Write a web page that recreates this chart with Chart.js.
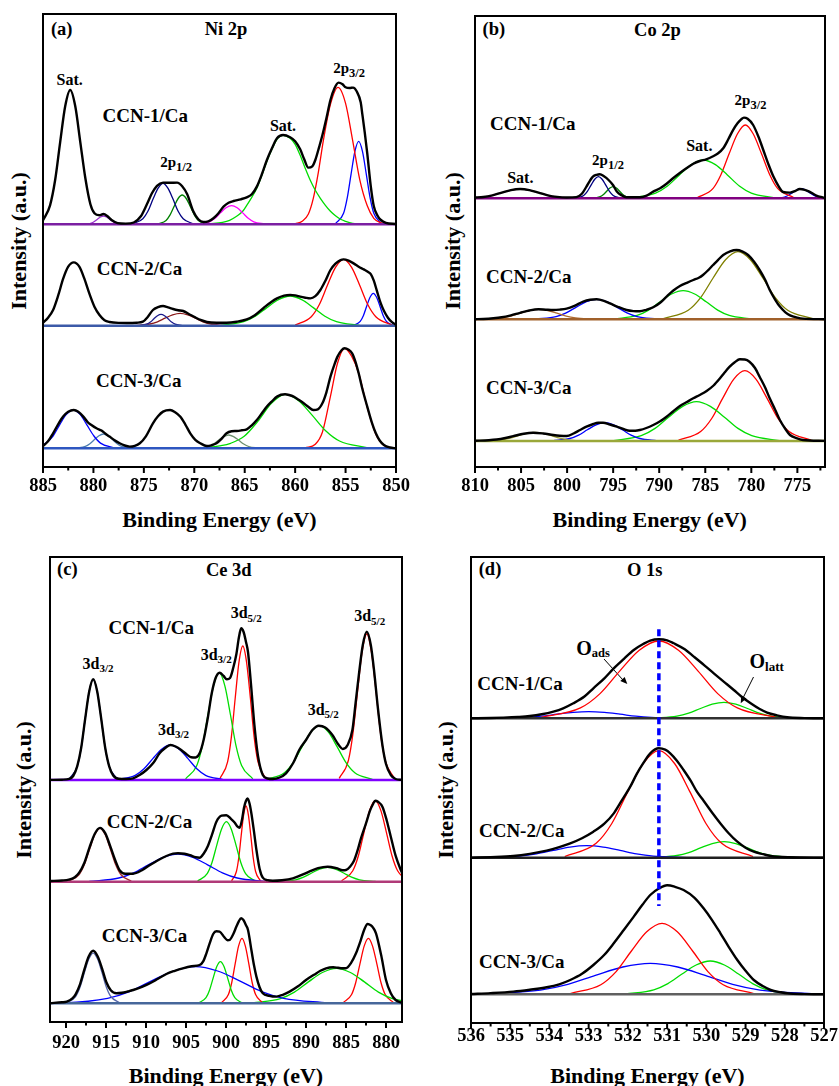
<!DOCTYPE html>
<html>
<head>
<meta charset="utf-8">
<title>XPS spectra</title>
<script src="https://cdn.jsdelivr.net/npm/chart.js@4.4.1/dist/chart.umd.min.js"></script>
<style>
  html, body { margin: 0; padding: 0; background: #fff; }
  body { width: 839px; height: 1086px; position: relative; overflow: hidden;
         font-family: "Liberation Serif", "Times New Roman", serif; font-weight: bold; color: #000; }
  canvas { position: absolute; }
  .t { position: absolute; transform: translate(-50%, -50%); white-space: nowrap; line-height: 1; }
  .yt { transform: translate(-50%, -50%) rotate(-90deg); }
  .sb { position: relative; }
  svg { position: absolute; left: 0; top: 0; }
</style>
</head>
<body>

<!-- (a) Ni 2p -->
<div class="t" style="left:61.7px;top:28.5px;font-size:18.5px">(a)</div>
<div class="t" style="left:226px;top:29.3px;font-size:18.5px">Ni 2p</div>
<div class="t" style="left:69.7px;top:80px;font-size:16px">Sat.</div>
<div class="t" style="left:145.3px;top:114.5px;font-size:19px">CCN-1/Ca</div>
<div class="t" style="left:176.2px;top:161.7px;font-size:15px">2p<span class="sb" style="font-size:12.5px;top:4px">1/2</span></div>
<div class="t" style="left:283px;top:125.7px;font-size:16px">Sat.</div>
<div class="t" style="left:349.2px;top:68.3px;font-size:15px">2p<span class="sb" style="font-size:12.5px;top:4px">3/2</span></div>
<div class="t" style="left:139.5px;top:268.3px;font-size:19px">CCN-2/Ca</div>
<div class="t" style="left:138.7px;top:380.3px;font-size:19px">CCN-3/Ca</div>
<div class="t" style="left:219.5px;top:520px;font-size:22px">Binding Energy (eV)</div>
<div class="t yt" style="left:19.3px;top:240.5px;font-size:22px">Intensity (a.u.)</div>

<!-- (b) Co 2p -->
<div class="t" style="left:493.8px;top:28.5px;font-size:18.5px">(b)</div>
<div class="t" style="left:657.5px;top:29.5px;font-size:18.5px">Co 2p</div>
<div class="t" style="left:532.8px;top:122.5px;font-size:19px">CCN-1/Ca</div>
<div class="t" style="left:520.3px;top:178.3px;font-size:16px">Sat.</div>
<div class="t" style="left:608px;top:159.7px;font-size:15px">2p<span class="sb" style="font-size:12.5px;top:4px">1/2</span></div>
<div class="t" style="left:699.3px;top:145.8px;font-size:16px">Sat.</div>
<div class="t" style="left:750.5px;top:99.7px;font-size:15px">2p<span class="sb" style="font-size:12.5px;top:4px">3/2</span></div>
<div class="t" style="left:528.7px;top:276px;font-size:19px">CCN-2/Ca</div>
<div class="t" style="left:528.7px;top:387.3px;font-size:19px">CCN-3/Ca</div>
<div class="t" style="left:649.7px;top:520px;font-size:22px">Binding Energy (eV)</div>
<div class="t yt" style="left:453.3px;top:241px;font-size:22px">Intensity (a.u.)</div>

<!-- (c) Ce 3d -->
<div class="t" style="left:67.3px;top:569px;font-size:18.5px">(c)</div>
<div class="t" style="left:228.8px;top:570px;font-size:18.5px">Ce 3d</div>
<div class="t" style="left:151.2px;top:626.7px;font-size:19px">CCN-1/Ca</div>
<div class="t" style="left:98px;top:663.8px;font-size:16px">3d<span class="sb" style="font-size:11px;top:3.5px">3/2</span></div>
<div class="t" style="left:173.5px;top:729.5px;font-size:16px">3d<span class="sb" style="font-size:11px;top:3.5px">3/2</span></div>
<div class="t" style="left:216.2px;top:654.5px;font-size:16px">3d<span class="sb" style="font-size:11px;top:3.5px">3/2</span></div>
<div class="t" style="left:246.2px;top:613px;font-size:16px">3d<span class="sb" style="font-size:11px;top:3.5px">5/2</span></div>
<div class="t" style="left:323.2px;top:709.7px;font-size:16px">3d<span class="sb" style="font-size:11px;top:3.5px">5/2</span></div>
<div class="t" style="left:369.7px;top:616.3px;font-size:16px">3d<span class="sb" style="font-size:11px;top:3.5px">5/2</span></div>
<div class="t" style="left:149.5px;top:820.8px;font-size:19px">CCN-2/Ca</div>
<div class="t" style="left:144.5px;top:935px;font-size:19px">CCN-3/Ca</div>
<div class="t" style="left:226px;top:1075.5px;font-size:22px">Binding Energy (eV)</div>
<div class="t yt" style="left:24.3px;top:789.5px;font-size:22px">Intensity (a.u.)</div>

<!-- (d) O 1s -->
<div class="t" style="left:490px;top:569px;font-size:18.5px">(d)</div>
<div class="t" style="left:644.7px;top:570px;font-size:18.5px">O 1s</div>
<div class="t" style="left:520px;top:682.8px;font-size:19px">CCN-1/Ca</div>
<div class="t" style="left:593px;top:647.8px;font-size:20px">O<span class="sb" style="font-size:12.5px;top:2px">ads</span></div>
<div class="t" style="left:766.7px;top:660.5px;font-size:20px">O<span class="sb" style="font-size:13px;top:3px">latt</span></div>
<div class="t" style="left:521.7px;top:830.3px;font-size:19px">CCN-2/Ca</div>
<div class="t" style="left:521.7px;top:961px;font-size:19px">CCN-3/Ca</div>
<div class="t" style="left:647.5px;top:1076px;font-size:22px">Binding Energy (eV)</div>
<div class="t yt" style="left:445.9px;top:790px;font-size:22px">Intensity (a.u.)</div>

<svg width="839" height="1086">
  <line x1="604" y1="659" x2="623" y2="680" stroke="#000" stroke-width="1"/>
  <polygon points="627.3,684 620.3,681 624.7,676.9" fill="#000"/>
  <line x1="753.5" y1="677" x2="743" y2="698" stroke="#000" stroke-width="1"/>
  <polygon points="740.7,703.3 741.2,695.7 746.5,698.4" fill="#000"/>
</svg>

<script>
// ---------------- (a) Ni 2p ----------------
const niTicks = [885, 880, 875, 870, 865, 860, 855, 850];
const niOffsets = [242.7, 141.3, 18.7];

const ni1Env = [[885,4],[884.3,19],[883.8,44],[883.3,82],[882.8,118],[882.3,134.3],[881.8,118],[881.3,82],[880.8,46],[880.3,20],[879.9,11],[879.4,9],[879.0,10.3],[878.6,8],[878.2,4.3],[877.6,1.2],[876.8,0.7],[876.0,1.8],[875.3,8],[874.7,20],[874.2,31],[873.7,38.5],[873.1,41.7],[872.4,41.5],[871.7,41.7],[871.2,38],[870.7,30],[870.1,13],[869.6,5],[869.1,2.3],[868.6,3],[868.1,6],[867.6,11],[867.1,17.7],[866.6,21.5],[866.1,23.3],[865.4,25],[864.8,27],[864.3,30],[863.8,37.7],[863.3,50],[862.8,64.3],[862.3,76],[861.8,86],[861.2,89.3],[860.5,87],[860.0,83],[859.5,75],[859.1,65],[858.7,56.7],[858.3,58],[858.0,64.3],[857.6,78],[857.3,89],[856.9,106],[856.5,124.3],[856.1,136],[855.7,141.7],[855.3,140],[855.0,137],[854.6,136.3],[854.25,136.7],[853.9,133],[853.5,122],[853.35,111],[853.1,92],[852.85,71],[852.5,38],[852.2,18],[851.8,8],[851.5,4.3],[851.0,1.5],[850,0.3]];
const ni1Purple = [[880.8,0],[880.2,1.1],[879.6,5.1],[879.3,7.3],[879.0,8.3],[878.7,7.3],[878.4,5.1],[877.8,1.1],[877.2,0]];
const ni1Navy = [[876.1,0.5],[875.1,5.5],[874.6,13],[874.1,25],[873.6,36],[873.1,41],[872.6,36],[872.1,25],[871.6,13],[871.1,5.5],[870.1,0.5]];
const ni1DkGreen = [[873.6,0.3],[872.8,3.9],[872.4,9.4],[872.0,17.9],[871.6,25.8],[871.2,29.3],[870.8,25.8],[870.4,17.9],[870.0,9.4],[869.6,3.9],[868.8,0.3]];
const ni1Magenta = [[869.6,0.2],[868.5,2.5],[867.95,6],[867.4,11.4],[866.85,16.5],[866.3,18.7],[865.75,16.5],[865.2,11.4],[864.65,6],[864.1,2.5],[863.0,0.2]];
const ni1Green = [[868.5,0.3],[867.2,2],[866.5,4],[865.8,8],[865.2,13],[864.8,19],[864.3,27],[863.8,36],[863.3,49],[862.8,63],[862.3,75],[861.8,85],[861.2,89],[860.5,86],[860.0,80],[859.5,69],[859.0,56],[858.5,44],[858.0,34],[857.5,26],[857.0,19],[856.5,13],[856.0,8.5],[855.5,5],[855.0,3],[854.3,1],[853.5,0.3]];
const ni1Red = [[860.0,0.5],[859.3,3],[858.7,10],[858.2,26],[857.7,52],[857.2,84],[856.5,120],[855.75,137],[855.0,121],[854.3,84],[853.6,45],[852.85,18.5],[852.2,6],[851.5,1.5],[850.8,0.2]];
const ni1Blue = [[856.0,0.7],[855.2,11],[854.825,27],[854.45,50.5],[854.075,73],[853.7,83],[853.325,73],[852.95,50.5],[852.575,27],[852.2,11],[851.45,0.9]];

const ni2Env = [[885,3],[884.5,8],[884.0,15.7],[883.5,30],[883.0,47],[882.5,59],[881.95,63.3],[881.4,59],[880.9,47],[880.4,32],[879.9,19],[879.4,10.7],[878.9,5.5],[878.4,3.7],[877.5,2.8],[876.7,2.7],[875.7,3],[875.1,4],[874.6,9],[874.1,15.7],[873.6,18.5],[873.1,19.7],[872.6,18.3],[872.1,16.7],[871.6,15.5],[871.1,14.7],[870.5,11.5],[869.9,8.3],[869.3,5.5],[868.75,3.7],[867.8,3],[866.8,3],[865.8,4],[864.8,6.3],[864.0,10.5],[863.1,18],[862.4,23.5],[861.8,27.3],[861.1,30],[860.5,30.7],[860.0,30.3],[859.5,29],[859.0,28],[858.5,27.3],[858.0,29.5],[857.5,35.7],[857.0,45],[856.5,55.7],[856.0,62],[855.5,65.5],[855.2,66.3],[854.7,65],[854.2,62.3],[853.7,59],[853.2,56.3],[852.8,54],[852.5,51.5],[852.2,45],[851.9,35],[851.5,22],[851.2,15],[850.8,8],[850.4,3.5],[850,1]];
const ni2Navy = [[875.4,0.1],[874.7,1.5],[874.35,3.6],[874.0,6.9],[873.65,10],[873.3,11.3],[872.95,10],[872.6,6.9],[872.25,3.6],[871.9,1.5],[871.2,0.1]];
const ni2DkRed = [[875.9,0.1],[874.4,1.7],[873.65,3.9],[872.9,7.5],[872.15,10.8],[871.4,12.3],[870.65,10.8],[869.9,7.5],[869.15,3.9],[868.4,1.7],[866.9,0.1]];
const ni2Green = [[867.4,0.3],[865.1,4],[863.95,9.5],[862.8,18.1],[861.65,26.1],[860.5,29.7],[859.35,26.1],[858.2,18.1],[857.05,9.5],[855.9,4],[853.6,0.3]];
const ni2Red = [[860.0,0.7],[858.4,9],[857.6,21.2],[856.8,40.4],[856.0,58.3],[855.2,66.3],[854.4,58.3],[853.6,40.4],[852.8,21.2],[852.0,9],[850.4,0.7]];
const ni2Blue = [[854.2,0.4],[853.55,4.4],[853.225,10.3],[852.9,19.7],[852.575,28.4],[852.25,32.3],[851.925,28.4],[851.6,19.7],[851.275,10.3],[850.95,4.4],[850.3,0.4]];

const ni3Env = [[885,2.3],[884.5,7],[884.0,15],[883.5,24],[883.0,31.7],[882.5,36.5],[881.95,38.3],[881.5,36.5],[881.0,31.7],[880.6,26.5],[880.2,23.3],[879.7,20],[879.2,17.7],[878.8,14.5],[878.4,11.7],[877.9,8],[877.4,5],[876.9,2.8],[876.4,1.7],[875.9,2.5],[875.4,5],[874.8,12],[874.1,25],[873.6,32],[873.1,36.7],[872.4,38.3],[871.9,36],[871.4,31.7],[870.9,24],[870.4,15],[869.9,8.5],[869.4,5],[868.75,2.3],[868.3,3],[867.8,5],[867.3,9.5],[866.8,15],[866.3,17],[865.8,17.3],[865.3,18],[864.8,19],[864.3,23],[863.8,28.3],[863.3,35],[862.8,41.7],[862.3,47],[861.8,51.7],[861.0,54],[860.6,53.3],[860.15,51.7],[859.65,48.5],[859.15,45],[858.7,41.5],[858.2,38.3],[857.75,39],[857.3,45],[856.9,56],[856.5,71.7],[856.1,84],[855.8,91.7],[855.4,98],[855.1,100],[854.7,98.5],[854.35,95],[854.0,86],[853.7,75],[853.3,58],[852.85,41.7],[852.4,26],[852.0,15],[851.6,7.5],[851.2,3.3],[850.6,0.8],[850,0]];
const ni3Blue = [[885,3.3],[884.7,5.2],[884.0,12.3],[883.35,23.4],[882.7,33.7],[882.0,38.3],[881.3,33.7],[880.65,23.4],[879.95,12.3],[879.3,5.2],[877.95,0.4]];
const ni3Steel = [[881.7,0.2],[880.8,1.9],[880.35,4.6],[879.9,8.7],[879.45,12.6],[879.0,14.3],[878.55,12.6],[878.1,8.7],[877.65,4.6],[877.2,1.9],[876.3,0.2]];
const ni3GrayGreen = [[869.6,0.1],[868.6,1.8],[868.1,4.3],[867.6,8.1],[867.1,11.7],[866.6,13.3],[866.1,11.7],[865.6,8.1],[865.1,4.3],[864.6,1.8],[863.6,0.1]];
const ni3Green = [[869.1,0.6],[867.5,2.5],[866.4,5],[865.05,12],[863.7,27],[862.35,45],[861.0,54],[859.65,47.5],[858.3,32.9],[856.95,17.3],[855.6,7.3],[852.9,0.6]];
const ni3Red = [[859.0,0.5],[858.0,4],[857.3,16],[856.5,52],[855.8,85],[855.1,100],[854.4,92],[853.7,75],[852.85,41],[852.0,14],[851.2,3],[850.2,0.2]];

// ---------------- (b) Co 2p ----------------
const coTicks = [810, 805, 800, 795, 790, 785, 780, 775];
const coOffsets = [268.7, 147.7, 26];

const co1Env = [[810,0.8],[809.1,1.3],[808.1,3],[807.1,5.7],[806.1,8.2],[805.1,9.3],[804.1,8.2],[803.1,5.7],[802.1,3],[801.1,1.4],[800.05,0.8],[799.0,1.2],[798.4,4.5],[797.9,11.7],[797.5,18],[797.2,21.7],[796.8,23.5],[796.45,24],[796.0,22],[795.5,18.3],[795.0,13],[794.6,6.7],[794.1,3],[793.55,1],[792.1,1],[791.3,3],[790.65,6.7],[789.9,10],[789.2,14.5],[788.5,20],[787.8,25],[787.05,30],[786.3,34.5],[785.6,37.3],[784.9,39],[784.15,42],[783.6,45],[783.05,50],[782.5,59],[782.0,68],[781.5,75],[781.1,79],[780.8,80.7],[780.4,79.5],[779.8,73.3],[779.2,61],[778.7,48.3],[778.1,33],[777.6,21.7],[777.0,11.5],[776.55,6.3],[775.8,5.7],[775.2,7.5],[774.75,9.3],[774.2,8.5],[773.7,6.7],[773.0,3],[772,0.3]];
const co1Purple = [[811.1,0.1],[809.1,1.3],[808.1,3],[807.1,5.7],[806.1,8.2],[805.1,9.3],[804.1,8.2],[803.1,5.7],[802.1,3],[801.1,1.3],[799.1,0.1]];
const co1Navy = [[799.0,0.2],[798.2,2.9],[797.8,7],[797.4,13.2],[797.0,19.1],[796.6,21.7],[796.2,19.1],[795.8,13.2],[795.4,7],[795.0,2.9],[794.2,0.2]];
const co1DkGreen = [[797.1,0.1],[796.4,1.6],[796.05,3.7],[795.7,7.1],[795.35,10.3],[795.0,11.7],[794.65,10.3],[794.3,7.1],[793.95,3.7],[793.6,1.6],[792.9,0.1]];
const co1Green = [[793.0,0.4],[790.4,5.2],[789.1,12.3],[787.8,23.4],[786.5,33.7],[785.2,38.3],[783.9,33.7],[782.6,23.4],[781.3,12.3],[780.0,5.2],[777.4,0.4]];
const co1Red = [[785.9,0.5],[784.15,9.9],[783.3,23.5],[782.4,44.7],[781.5,64.5],[780.65,73.3],[779.8,64.5],[778.9,44.7],[778.0,23.5],[777.15,9.9],[775.4,0.8]];
const co1Blue = [[777.3,0.1],[776.4,1.3],[775.95,3.1],[775.5,5.9],[775.05,8.5],[774.6,9.6],[774.15,8.5],[773.7,5.9],[773.25,3.1],[772.8,1.3],[771.9,0.1]];

const co2Env = [[810,0.1],[809.1,0.3],[808,1],[807.1,2],[806.1,4],[805.1,6.5],[804.1,8.8],[803.1,10],[802.3,9.6],[801.5,9.3],[800.8,9.7],[800.05,10.7],[799.2,13.5],[798.25,17.7],[797.5,19.5],[796.8,20],[796.0,18.5],[795.35,16],[794.5,12.5],[793.55,9.3],[792.8,8.2],[792.1,8],[791.4,9.5],[790.65,12],[789.9,16.5],[789.2,22.7],[788.5,28.5],[787.75,33.3],[787.0,36.5],[786.3,39.3],[785.7,41.5],[785.25,44.3],[784.7,49],[784.15,54.3],[783.6,59.5],[783.05,64.3],[782.3,68],[781.6,69.3],[781.0,68],[780.35,64.3],[779.7,57.5],[779.1,49.3],[778.5,39.5],[778.0,29.3],[777.4,19.5],[776.9,12.7],[776.3,7],[775.8,4],[775,1.7],[774.4,0.7],[772,0.1]];
const co2Brown = [[809.1,0.1],[807.1,1.4],[806.1,3.2],[805.1,6.1],[804.1,8.8],[803.1,10],[802.1,8.8],[801.1,6.1],[800.1,3.2],[799.1,1.4],[797.1,0.1]];
const co2Blue = [[803.4,0.2],[801.2,2.7],[800.1,6.4],[799.0,12.2],[797.9,17.6],[796.8,20],[795.7,17.6],[794.6,12.2],[793.5,6.4],[792.4,2.7],[790.2,0.2]];
const co2Green = [[794.9,0.3],[792.4,3.9],[791.15,9.2],[789.9,17.5],[788.65,25.3],[787.4,28.7],[786.15,25.3],[784.9,17.5],[783.65,9.2],[782.4,3.9],[779.9,0.3]];
const co2Olive = [[789.55,0.7],[786.85,9.1],[785.5,21.7],[784.15,41.3],[782.8,59.6],[781.45,67.7],[780.1,59.6],[778.75,41.3],[777.4,21.7],[776.05,9.1],[773.35,0.7]];

const co3Env = [[810,0.2],[808.5,0.8],[807.65,1.5],[806.7,3],[805.85,4.8],[804.7,7.3],[803.7,8.3],[802.6,7.5],[801.5,6],[800.8,5.3],[800.05,5],[799.3,7.5],[798.6,11],[797.9,14.3],[797.15,17],[796.6,18.2],[796.1,18.3],[795.35,16.5],[794.6,14.3],[793.9,12],[793.2,10.3],[792.6,10.3],[792.1,11],[791.4,13],[790.65,16],[789.9,19.7],[789.2,24.3],[788.5,29.5],[787.75,35],[787.0,39],[786.3,42.7],[785.6,46],[784.85,50],[784.1,55.5],[783.4,62.7],[782.9,68.5],[782.35,74.3],[781.8,78.7],[781.25,81.7],[780.7,81.5],[780.2,79.3],[779.6,73],[779.1,64.3],[778.5,53.5],[778.0,42.7],[777.4,31],[776.9,21],[776.3,12],[775.8,6],[775.1,2.8],[774.4,1],[772,0.1]];
const co3Olive = [[808.9,0.1],[807.1,1.2],[806.2,2.8],[805.3,5.3],[804.4,7.7],[803.5,8.7],[802.6,7.7],[801.7,5.3],[800.8,2.8],[799.9,1.2],[798.1,0.1]];
const co3Blue = [[801.6,0.2],[799.7,2.5],[798.75,5.9],[797.8,11.2],[796.85,16.1],[795.9,18.3],[794.95,16.1],[794.0,11.2],[793.05,5.9],[792.1,2.5],[790.2,0.2]];
const co3Green = [[794.95,0.4],[791.95,5.3],[790.45,12.6],[788.95,24],[787.45,34.6],[785.95,39.3],[784.45,34.6],[782.95,24],[781.45,12.6],[779.95,5.3],[776.95,0.4]];
const co3Red = [[787.9,0.8],[785.5,9.5],[784.3,22.5],[783.1,42.9],[781.9,61.9],[780.7,70.3],[779.5,61.9],[778.3,42.9],[777.1,22.5],[775.9,9.5],[773.5,0.8]];

// ---------------- (c) Ce 3d ----------------
const ceTicks = [920, 915, 910, 905, 900, 895, 890, 885, 880];
const ceOffsets = [242, 140.3, 18.7];

const ce1Env = [[922,0.1],[920.5,0.3],[919.6,1.1],[919.1,4],[918.6,13.6],[918.1,32.2],[917.6,61.4],[917.1,88.6],[916.6,100.7],[916.1,88.6],[915.6,61.4],[915.1,32.2],[914.6,13.6],[914.1,4.5],[913.4,1.2],[912.5,1],[911.6,1.7],[910.8,5],[909.95,10],[909.1,17],[908.3,26.7],[907.6,32],[906.95,35],[906.3,33.5],[905.6,30],[904.9,25.5],[904.35,22.7],[903.8,22.5],[903.3,26.7],[902.8,40],[902.25,63.3],[901.8,86],[901.3,102],[900.8,107.3],[900.3,104],[899.9,100.7],[899.5,102],[899.1,112],[898.7,126],[898.4,142],[898.1,151.7],[897.8,148],[897.5,138],[897.25,128],[896.9,98],[896.45,55],[896.0,24],[895.4,5],[894.8,1.5],[894.15,1],[893.3,2.5],[892.5,6.7],[891.6,17],[890.85,30],[890.0,40],[889.2,50],[888.4,54.3],[887.6,52.5],[886.7,45],[886.0,36],[885.4,31],[884.8,35],[884.2,50],[883.8,77],[883.35,108],[882.9,135],[882.4,148.3],[881.9,135],[881.5,110],[881.0,71],[880.45,35],[880.0,16],[879.4,5],[878.8,1],[878,0.1]];
const ce1Navy = [[919.6,1.1],[918.6,13.6],[918.1,32.2],[917.6,61.4],[917.1,88.6],[916.6,100.7],[916.1,88.6],[915.6,61.4],[915.1,32.2],[914.6,13.6],[913.6,1.1]];
const ce1Blue = [[913.55,0.4],[911.35,4.7],[910.25,11.2],[909.15,21.4],[908.05,30.8],[906.95,35],[905.85,30.8],[904.75,21.4],[903.65,11.2],[902.55,4.7],[900.35,0.4]];
const ce1Green = [[905.05,1.2],[903.65,14.5],[902.95,34.3],[902.25,65.5],[901.55,94.4],[900.85,107.3],[900.15,94.4],[899.45,65.5],[898.75,34.3],[898.05,14.5],[896.65,1.2]];
const ce1Red = [[900.75,1.5],[899.8,18.1],[899.33,42.9],[898.85,81.7],[898.38,117.9],[897.9,134],[897.43,117.9],[896.95,81.7],[896.48,42.9],[896.0,18.1],[895.05,1.5]];
const ce1Green2 = [[894.9,0.6],[892.7,7.3],[891.6,17.4],[890.5,33.1],[889.4,47.8],[888.3,54.3],[887.2,47.8],[886.1,33.1],[885.0,17.4],[883.9,7.3],[881.7,0.6]];
const ce1Red2 = [[885.85,1.6],[884.7,19.7],[884.13,46.7],[883.55,89.1],[882.98,128.5],[882.4,146],[881.83,128.5],[881.25,89.1],[880.68,46.7],[880.1,19.7],[878.95,1.6]];

const ce2Env = [[922,0.7],[920.5,1.2],[919.65,2],[918.9,4.5],[918.35,9],[917.7,19],[917.05,34.5],[916.4,48],[915.75,53.8],[915.1,48.5],[914.45,35],[913.8,20.5],[913.3,11.5],[912.6,8],[911.6,8],[910.5,11.5],[909.5,16.7],[908.5,21.5],[907.45,25.7],[906.6,28],[906.0,28.5],[905.2,28],[904.5,26.5],[903.8,24.5],[903.3,24],[902.8,28],[902.25,36],[901.75,47],[901.2,60],[900.55,66],[899.95,66.5],[899.4,63],[898.9,59],[898.55,55],[898.3,54],[898.0,62],[897.75,74],[897.5,81],[897.3,83.3],[897.05,78],[896.8,67],[896.5,50],[896.2,32],[895.8,13],[895.4,4],[894.8,1.5],[894.15,1],[893,1.5],[891.65,3.3],[890.6,6.5],[889.6,10],[888.5,13.5],[887.3,15],[886.2,13.5],[885.4,11.5],[885.0,11.7],[884.5,15],[884.0,21],[883.6,30],[883.1,44],[882.5,58.3],[882.0,71],[881.6,78],[881.35,81],[881.0,80],[880.45,75],[879.9,61],[879.4,45],[878.8,26],[878.15,11.7],[878,9]];
const ce2DkRed = [[919.65,0.6],[918.35,7.2],[917.7,17.1],[917.05,32.5],[916.4,46.9],[915.75,53.3],[915.1,46.9],[914.45,32.5],[913.8,17.1],[913.15,7.2],[911.85,0.6]];
const ce2Blue = [[917.1,0.3],[913.4,3.7],[911.55,8.9],[909.7,16.9],[907.85,24.4],[906.0,27.7],[904.15,24.4],[902.3,16.9],[900.45,8.9],[898.6,3.7],[894.9,0.3]];
const ce2Green = [[903.55,0.7],[902.35,8.1],[901.75,19.2],[901.15,36.6],[900.55,52.8],[899.95,60],[899.35,52.8],[898.75,36.6],[898.15,19.2],[897.55,8.1],[896.35,0.7]];
const ce2Red = [[899.3,0.8],[898.7,10.2],[898.4,24.2],[898.1,46.2],[897.8,66.6],[897.5,75.7],[897.2,66.6],[896.9,46.2],[896.6,24.2],[896.3,10.2],[895.7,0.8]];
const ce2Green2 = [[893.3,0.2],[891.3,1.9],[890.3,4.6],[889.3,8.7],[888.3,12.6],[887.3,14.3],[886.3,12.6],[885.3,8.7],[884.3,4.6],[883.3,1.9],[881.3,0.2]];
const ce2Red2 = [[885.55,0.9],[884.15,10.9],[883.45,25.9],[882.75,49.4],[882.05,71.3],[881.35,81],[880.65,71.3],[879.95,49.4],[879.25,25.9],[878.55,10.9],[877.15,0.9]];

const ce3Env = [[922,0.2],[920.5,1],[919.9,1.7],[919.2,5],[918.8,9],[918.25,19],[917.7,34],[917.15,47],[916.6,52.5],[916.05,47],[915.5,35],[914.95,21],[914.4,13],[913.7,10],[913.0,10.5],[912.3,11.8],[911.6,13.3],[910.5,16.5],[909.5,20],[908.5,24.5],[907.45,29.3],[906.4,32.5],[905.4,35],[904.3,37],[903.3,38.3],[902.85,42],[902.45,50],[902.0,61],[901.6,69.3],[901.2,72],[900.8,71.7],[900.2,66],[899.8,63],[899.55,63.3],[899.1,69],[898.7,76.7],[898.4,82],[898.1,85],[897.8,83],[897.5,78],[897.25,73.3],[896.8,52],[896.5,38],[896.2,26.7],[895.8,16],[895.4,10],[894.6,7.5],[893.7,6.7],[892.9,8.5],[892.05,11.7],[891.0,17],[890.0,23.3],[889.0,28.5],[888.2,32.5],[887.5,35],[886.6,36],[886.0,35.5],[885.5,35],[885.0,35],[884.4,40],[883.75,50],[883.2,62],[882.7,74],[882.3,79.3],[881.9,78],[881.6,75.5],[881.25,70],[880.6,48],[880.0,23.3],[879.4,10],[878.8,3.3],[878,0.5]];
const ce3Slate = [[919.9,0.6],[918.8,6.8],[918.25,16.1],[917.7,30.7],[917.15,44.2],[916.6,50.2],[916.05,44.2],[915.5,30.7],[914.95,16.1],[914.4,6.8],[913.3,0.6]];
const ce3Blue = [[922,0.2],[920.3,0.4],[914.8,5],[912.05,11.7],[909.3,22.4],[906.55,32.3],[903.8,36.7],[901.05,32.3],[898.3,22.4],[895.55,11.7],[892.8,5],[887.3,0.4]];
const ce3Green = [[903.4,0.5],[902.5,5.6],[902.05,13.3],[901.6,25.4],[901.15,36.7],[900.7,41.7],[900.25,36.7],[899.8,25.4],[899.35,13.3],[898.9,5.6],[898.0,0.5]];
const ce3Red = [[900.55,0.7],[899.7,8.8],[899.28,20.8],[898.85,39.7],[898.43,57.2],[898.0,65],[897.58,57.2],[897.15,39.7],[896.73,20.8],[896.3,8.8],[895.45,0.7]];
const ce3Green2 = [[896.7,0.4],[893.2,4.7],[891.45,11.2],[889.7,21.4],[887.95,30.8],[886.2,35],[884.45,30.8],[882.7,21.4],[880.95,11.2],[879.2,4.7],[875.7,0.4]];
const ce3Red2 = [[885.35,0.7],[884.3,8.8],[883.78,20.8],[883.25,39.7],[882.73,57.2],[882.2,65],[881.68,57.2],[881.15,39.7],[880.63,20.8],[880.1,8.8],[879.05,0.7]];

// ---------------- (d) O 1s ----------------
const oTicks = [536, 535, 534, 533, 532, 531, 530, 529, 528, 527];
const oOffsets = [304.7, 165.3, 28.7];
const oRefEnergy = 531.21;
const oRefSpan = [393.7, 117];

const o1Env = [[536,0],[535.5,0.3],[535.17,0.7],[534.8,1.4],[534.5,2.3],[534.2,4],[533.9,6.7],[533.65,10],[533.39,15],[533.1,22],[532.88,30],[532.6,40],[532.36,50],[532.1,59.5],[531.85,68.3],[531.6,74.5],[531.43,77.7],[531.21,79],[531.0,78],[530.83,75],[530.55,69],[530.32,61.7],[530.05,53],[529.81,45],[529.55,36.5],[529.3,28.3],[529.1,21.5],[528.87,15],[528.65,9.5],[528.45,5.7],[528.2,3],[527.94,1],[527.5,0.2],[527,0]];
const o1Red = [[534.21,0.9],[533.21,10.4],[532.71,24.7],[532.21,47.2],[531.71,68],[531.21,77.3],[530.71,68],[530.21,47.2],[529.71,24.7],[529.21,10.4],[528.21,0.9]];
const o1Blue = [[535.4,0.1],[534.6,0.9],[534.2,2.1],[533.8,4.1],[533.4,5.9],[533.0,6.7],[532.6,5.9],[532.2,4.1],[531.8,2.1],[531.4,0.9],[530.6,0.1]];
const o1Green = [[531.35,0.2],[530.75,2.2],[530.45,5.1],[530.15,9.8],[529.85,14.1],[529.55,16],[529.25,14.1],[528.95,9.8],[528.65,5.1],[528.35,2.2],[527.75,0.2]];

const o2Env = [[536,0],[535.5,0.6],[534.92,1.7],[534.5,3.8],[534.07,7],[533.75,10.5],[533.47,14.3],[533.17,19.5],[532.88,26],[532.6,34],[532.36,44.3],[532.19,55],[531.94,71],[531.77,84],[531.6,95],[531.43,104.4],[531.21,109.4],[531.05,108],[530.92,104.4],[530.75,97],[530.58,87.7],[530.4,77],[530.24,66],[530.07,57],[529.85,45],[529.64,34.3],[529.43,24.5],[529.21,16],[529.0,10],[528.79,6],[528.55,3.5],[528.36,1.7],[527.9,0.4],[527,0]];
const o2Red = [[533.61,1.2],[532.81,14.4],[532.41,34.2],[532.01,65.3],[531.61,94.2],[531.21,107],[530.81,94.2],[530.41,65.3],[530.01,34.2],[529.61,14.4],[528.81,1.2]];
const o2Blue = [[535.6,0.1],[534.75,1.6],[534.33,3.8],[533.9,7.3],[533.48,10.6],[533.05,12],[532.63,10.6],[532.2,7.3],[531.78,3.8],[531.35,1.6],[530.5,0.1]];
const o2Green = [[531.35,0.2],[530.75,2.2],[530.45,5.1],[530.15,9.8],[529.85,14.1],[529.55,16],[529.25,14.1],[528.95,9.8],[528.65,5.1],[528.35,2.2],[527.75,0.2]];

const o3Env = [[536,0.3],[535.5,1.2],[534.92,2.7],[534.5,4.6],[534.07,7],[533.75,10],[533.47,14.3],[533.17,20.5],[532.88,29.3],[532.6,39.5],[532.36,51],[532.1,64.5],[531.85,77.7],[531.63,89.5],[531.43,99.3],[531.2,106],[531.0,109],[530.8,107.5],[530.58,104.3],[530.3,96.5],[530.07,86],[529.85,74],[529.64,61],[529.43,47.5],[529.21,34.3],[529.0,23.5],[528.79,14.3],[528.55,8],[528.36,4.3],[528.1,2],[527.94,1],[527.5,0.2],[527,0]];
const o3Red = [[533.47,0.8],[532.69,9.6],[532.3,22.7],[531.91,43.3],[531.52,62.5],[531.13,71],[530.74,62.5],[530.35,43.3],[529.96,22.7],[529.57,9.6],[528.79,0.8]];
const o3Blue = [[535.63,0.3],[534.23,4.2],[533.53,9.9],[532.83,18.9],[532.13,27.3],[531.43,31],[530.73,27.3],[530.03,18.9],[529.33,9.9],[528.63,4.2],[527.23,0.3]];
const o3Green = [[532.06,0.4],[531.34,4.5],[530.98,10.7],[530.62,20.3],[530.26,29.3],[529.9,33.3],[529.54,29.3],[529.18,20.3],[528.82,10.7],[528.46,4.5],[527.74,0.4]];

// ---------------- drawing ----------------
const PAD_X = 24, PAD_T = 4, PAD_B = 44;
const FONT = '"Liberation Serif", "Times New Roman", serif';
const RED = '#ff0000', BLUE = '#0000ff', GREEN = '#00dd00';

function toLine(pairs, offset, color, width, order, dash) {
  return {
    data: pairs.map(([e, v]) => ({ x: e, y: v + offset })),
    borderColor: color,
    borderWidth: width,
    borderDash: dash || [],
    pointRadius: 0,
    fill: false,
    order: order,
    cubicInterpolationMode: dash ? 'default' : 'monotone',
    tension: 0
  };
}

// major ticks come from the arrays, a minor tick sits half way between them
function tickValues(majors, range) {
  const step = Math.abs(majors[0] - majors[1]);
  const vals = [];
  majors.forEach(m => {
    [m, m - step / 2, m + step / 2].forEach(v => {
      if (v >= range[0] && v <= range[1] && !vals.includes(v)) vals.push(v);
    });
  });
  return vals;
}

function buildPanel(p) {
  const w = p.frame.right - p.frame.left;
  const h = p.frame.bottom - p.frame.top;
  const canvas = document.createElement('canvas');
  canvas.width = w + 2 * PAD_X;
  canvas.height = h + PAD_T + PAD_B;
  canvas.style.left = (p.frame.left - PAD_X) + 'px';
  canvas.style.top = (p.frame.top - PAD_T) + 'px';
  document.body.appendChild(canvas);

  const datasets = [];
  p.samples.forEach(s => {
    datasets.push(toLine(s.env, s.offset, '#000', 2.4, 1));
    datasets.push(toLine([[p.range[1], 0], [p.range[0], 0]], s.offset, s.base, 2.4, 2));
    s.comps.forEach(([pts, color]) => datasets.push(toLine(pts, s.offset, color, 1.3, 3)));
  });
  (p.extras || []).forEach(e => datasets.push(toLine(e.pts, 0, e.color, e.width, 0, e.dash)));

  const ticks = tickValues(p.ticks, p.range);

  const framePlugin = {
    id: 'frame',
    afterDraw(chart) {
      const { ctx, chartArea: a } = chart;
      const x = chart.scales.x;
      ctx.save();
      ctx.strokeStyle = '#000';
      ctx.lineWidth = 2;
      ctx.strokeRect(a.left, a.top, a.right - a.left, a.bottom - a.top);
      ticks.forEach(v => {
        const px = x.getPixelForValue(v);
        const len = p.ticks.includes(v) ? 6 : 3.5;
        ctx.beginPath();
        ctx.moveTo(px, a.bottom);
        ctx.lineTo(px, a.bottom + len);
        ctx.stroke();
      });
      ctx.restore();
    }
  };

  return new Chart(canvas.getContext('2d'), {
    type: 'line',
    data: { datasets },
    options: {
      responsive: false,
      animation: false,
      layout: { autoPadding: false, padding: { left: PAD_X, right: PAD_X, top: PAD_T, bottom: 0 } },
      plugins: { legend: { display: false }, tooltip: { enabled: false } },
      scales: {
        x: {
          type: 'linear',
          reverse: true,
          min: p.range[0],
          max: p.range[1],
          grid: { display: false, drawTicks: false },
          border: { display: false },
          afterBuildTicks: (scale) => { scale.ticks = ticks.map(v => ({ value: v })); },
          afterFit: (scale) => { scale.height = PAD_B; },
          ticks: {
            autoSkip: false,
            maxRotation: 0,
            minRotation: 0,
            padding: p.labelPad,
            color: '#000',
            font: { family: FONT, size: 18.5, weight: 'bold' },
            callback: (v) => (p.ticks.includes(v) ? String(v) : '')
          }
        },
        y: { display: false, min: 0, max: h }
      }
    },
    plugins: [framePlugin]
  });
}

const panels = [
  {
    frame: { left: 43, top: 14, right: 396, bottom: 467 },
    range: [850, 885], ticks: niTicks, labelPad: 8,
    samples: [
      { env: ni1Env, offset: niOffsets[0], base: '#7b1fa2',
        comps: [[ni1Navy, '#000080'], [ni1DkGreen, '#008000'], [ni1Magenta, '#ff00ff'], [ni1Green, GREEN], [ni1Red, RED], [ni1Blue, BLUE], [ni1Purple, '#9a32cd']] },
      { env: ni2Env, offset: niOffsets[1], base: '#3c5aa8',
        comps: [[ni2Navy, '#1a1a8c'], [ni2DkRed, '#8b1a1a'], [ni2Green, GREEN], [ni2Red, RED], [ni2Blue, BLUE]] },
      { env: ni3Env, offset: niOffsets[2], base: '#2e56c0',
        comps: [[ni3Blue, BLUE], [ni3Steel, '#4f7fb0'], [ni3GrayGreen, '#6d8f6d'], [ni3Green, GREEN], [ni3Red, RED]] }
    ]
  },
  {
    frame: { left: 475, top: 16, right: 825, bottom: 467 },
    range: [772, 810], ticks: coTicks, labelPad: 8.5,
    samples: [
      { env: co1Env, offset: coOffsets[0], base: '#800080',
        comps: [[co1Navy, '#000080'], [co1DkGreen, '#008000'], [co1Green, GREEN], [co1Red, RED], [co1Blue, BLUE], [co1Purple, '#800080']] },
      { env: co2Env, offset: coOffsets[1], base: '#a0602a',
        comps: [[co2Brown, '#b06a30'], [co2Blue, BLUE], [co2Green, GREEN], [co2Olive, '#808000']] },
      { env: co3Env, offset: coOffsets[2], base: '#9aa83a',
        comps: [[co3Olive, '#9a9a30'], [co3Blue, BLUE], [co3Green, GREEN], [co3Red, RED]] }
    ]
  },
  {
    frame: { left: 50, top: 557, right: 402, bottom: 1022 },
    range: [878, 922], ticks: ceTicks, labelPad: 10,
    samples: [
      { env: ce1Env, offset: ceOffsets[0], base: '#7f00ff',
        comps: [[ce1Navy, '#000080'], [ce1Blue, BLUE], [ce1Green, GREEN], [ce1Red, RED], [ce1Green2, GREEN], [ce1Red2, RED]] },
      { env: ce2Env, offset: ceOffsets[1], base: '#b03a78',
        comps: [[ce2DkRed, '#a52a2a'], [ce2Blue, BLUE], [ce2Green, GREEN], [ce2Red, RED], [ce2Green2, GREEN], [ce2Red2, RED]] },
      { env: ce3Env, offset: ceOffsets[2], base: '#46679a',
        comps: [[ce3Slate, '#5566aa'], [ce3Blue, BLUE], [ce3Green, GREEN], [ce3Red, RED], [ce3Green2, GREEN], [ce3Red2, RED]] }
    ]
  },
  {
    frame: { left: 471, top: 557, right: 824, bottom: 1023 },
    range: [527, 536], ticks: oTicks, labelPad: 2,
    samples: [
      { env: o1Env, offset: oOffsets[0], base: '#303030', comps: [[o1Red, RED], [o1Blue, BLUE], [o1Green, GREEN]] },
      { env: o2Env, offset: oOffsets[1], base: '#202020', comps: [[o2Red, RED], [o2Blue, BLUE], [o2Green, GREEN]] },
      { env: o3Env, offset: oOffsets[2], base: '#606060', comps: [[o3Red, RED], [o3Blue, BLUE], [o3Green, GREEN]] }
    ],
    extras: [
      { pts: [[oRefEnergy, oRefSpan[0]], [oRefEnergy, oRefSpan[1]]], color: '#0000ff', width: 3.5, dash: [7, 4] }
    ]
  }
];

panels.forEach(buildPanel);
</script>
</body>
</html>
